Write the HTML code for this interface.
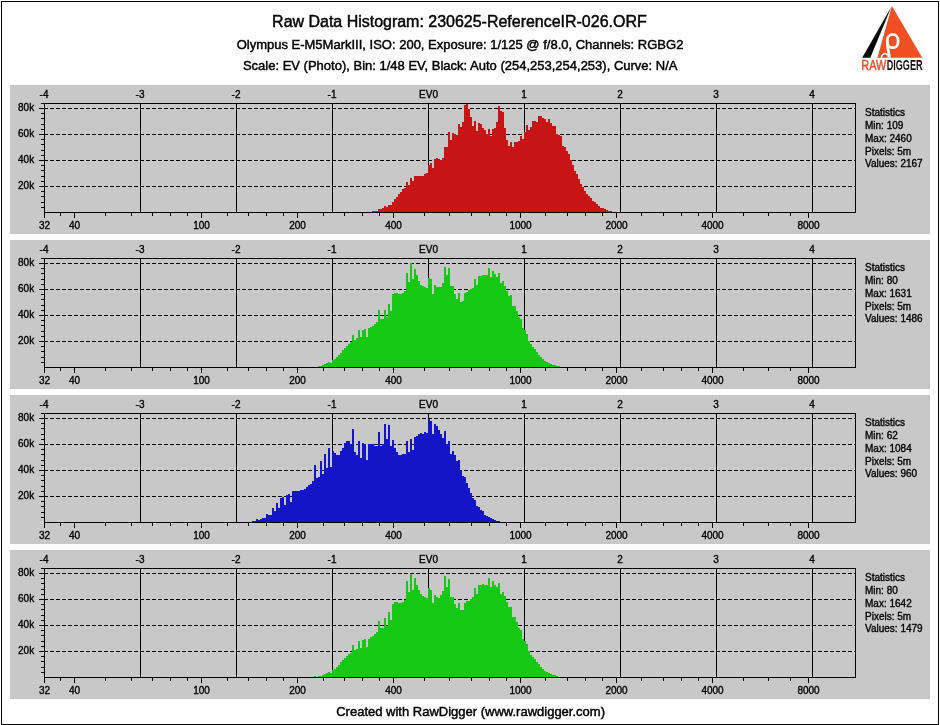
<!DOCTYPE html>
<html lang="en"><head><meta charset="utf-8"><title>Raw Data Histogram: 230625-ReferenceIR-026.ORF</title>
<style>html,body{margin:0;padding:0;background:#fff}body{width:940px;height:725px;overflow:hidden}svg{display:block}text{font-family:"Liberation Sans",sans-serif;fill:#000}.t10{font-size:10px;stroke:#000;stroke-width:.35px}.t13{font-size:13px;stroke:#000;stroke-width:.45px}.t16{font-size:16px;stroke:#000;stroke-width:.45px}.c{shape-rendering:crispEdges}</style></head><body>
<svg width="940" height="725" viewBox="0 0 940 725">
<rect width="940" height="725" fill="#fff"/>
<g class="c" fill="#000"><rect x="1" y="1" width="938" height="1"/><rect x="1" y="724" width="938" height="1"/><rect x="1" y="1" width="1" height="724"/><rect x="938" y="1" width="1" height="724"/></g>
<text class="t16" x="459.4" y="27" text-anchor="middle" textLength="374.6">Raw Data Histogram: 230625-ReferenceIR-026.ORF</text>
<text class="t13" x="460" y="48.8" text-anchor="middle">Olympus E-M5MarkIII, ISO: 200, Exposure: 1/125 @ f/8.0, Channels: RGBG2</text>
<text class="t13" x="460.2" y="69.8" text-anchor="middle">Scale: EV (Photo), Bin: 1/48 EV, Black: Auto (254,253,254,253), Curve: N/A</text>
<text class="t13" x="470.6" y="716" text-anchor="middle">Created with RawDigger (www.rawdigger.com)</text>
<g id="logo">
<polygon points="891.9,6 922.3,57.7 877.4,57.7" fill="#f04e23"/>
<polygon points="891.5,6.5 870.3,57.7 862.2,57.7" fill="#0a0a0a"/>
<rect x="887.35" y="34.7" width="10.7" height="13" rx="4.7" ry="5.6" fill="none" stroke="#fff" stroke-width="2.7"/>
<path d="M886,41 C886,46 886.8,50 887.3,53 C887.6,55 887.6,56.6 887.5,57.7 L890.9,57.7 C890.6,54 889.6,50 889,46.5 L888.7,41 Z" fill="#fff"/>
<path d="M887.6,55.4 C886.8,53.4 884,53.2 882.7,54.7 C881.7,55.8 881.4,57 881.3,57.7" fill="none" stroke="#fff" stroke-width="1.5"/>
<circle cx="884.9" cy="56" r="1" fill="#e8280f"/>
<text x="861.3" y="69.8" font-size="14.6" style="fill:#f04e23;stroke:#f04e23;stroke-width:.45px" textLength="25" lengthAdjust="spacingAndGlyphs">RAW</text>
<text x="886.7" y="69.8" font-size="14.6" font-weight="bold" style="fill:#111" textLength="35.8" lengthAdjust="spacingAndGlyphs">DIGGER</text>
</g>
<g transform="translate(0,0)">
<rect class="c" x="10" y="85" width="920" height="149" fill="#c8c8c8"/>
<g class="c" fill="#000"><path d="M44,108.5H855" stroke="#000" stroke-width="1" stroke-dasharray="4,2" stroke-dashoffset="0" fill="none"/><path d="M44,134.5H855" stroke="#000" stroke-width="1" stroke-dasharray="4,2" stroke-dashoffset="0" fill="none"/><path d="M44,160.5H855" stroke="#000" stroke-width="1" stroke-dasharray="4,2" stroke-dashoffset="0" fill="none"/><path d="M44,186.5H855" stroke="#000" stroke-width="1" stroke-dasharray="4,2" stroke-dashoffset="0" fill="none"/><rect x="140" y="103" width="1" height="110"/><rect x="236" y="103" width="1" height="110"/><rect x="332" y="103" width="1" height="110"/><rect x="428" y="103" width="1" height="110"/><rect x="524" y="103" width="1" height="110"/><rect x="620" y="103" width="1" height="110"/><rect x="716" y="103" width="1" height="110"/><rect x="812" y="103" width="1" height="110"/><rect x="41" y="103" width="815" height="1"/><rect x="44" y="212" width="812" height="1"/><rect x="44" y="103" width="1" height="115"/><rect x="855" y="103" width="1" height="110"/><rect x="41" y="207" width="3" height="1"/><rect x="41" y="202" width="3" height="1"/><rect x="41" y="196" width="3" height="1"/><rect x="41" y="191" width="3" height="1"/><rect x="39" y="186" width="5" height="1"/><rect x="41" y="181" width="3" height="1"/><rect x="41" y="176" width="3" height="1"/><rect x="41" y="170" width="3" height="1"/><rect x="41" y="165" width="3" height="1"/><rect x="39" y="160" width="5" height="1"/><rect x="41" y="155" width="3" height="1"/><rect x="41" y="150" width="3" height="1"/><rect x="41" y="144" width="3" height="1"/><rect x="41" y="139" width="3" height="1"/><rect x="39" y="134" width="5" height="1"/><rect x="41" y="129" width="3" height="1"/><rect x="41" y="124" width="3" height="1"/><rect x="41" y="118" width="3" height="1"/><rect x="41" y="113" width="3" height="1"/><rect x="39" y="108" width="5" height="1"/><rect x="60" y="213" width="1" height="3"/><rect x="74" y="213" width="1" height="5"/><rect x="105" y="213" width="1" height="3"/><rect x="131" y="213" width="1" height="3"/><rect x="152" y="213" width="1" height="3"/><rect x="170" y="213" width="1" height="3"/><rect x="187" y="213" width="1" height="3"/><rect x="201" y="213" width="1" height="5"/><rect x="227" y="213" width="1" height="3"/><rect x="248" y="213" width="1" height="3"/><rect x="266" y="213" width="1" height="3"/><rect x="283" y="213" width="1" height="3"/><rect x="297" y="213" width="1" height="5"/><rect x="323" y="213" width="1" height="3"/><rect x="344" y="213" width="1" height="3"/><rect x="362" y="213" width="1" height="3"/><rect x="379" y="213" width="1" height="3"/><rect x="393" y="213" width="1" height="5"/><rect x="424" y="213" width="1" height="3"/><rect x="449" y="213" width="1" height="3"/><rect x="471" y="213" width="1" height="3"/><rect x="489" y="213" width="1" height="3"/><rect x="506" y="213" width="1" height="3"/><rect x="520" y="213" width="1" height="5"/><rect x="545" y="213" width="1" height="3"/><rect x="567" y="213" width="1" height="3"/><rect x="585" y="213" width="1" height="3"/><rect x="602" y="213" width="1" height="3"/><rect x="616" y="213" width="1" height="5"/><rect x="641" y="213" width="1" height="3"/><rect x="663" y="213" width="1" height="3"/><rect x="681" y="213" width="1" height="3"/><rect x="698" y="213" width="1" height="3"/><rect x="712" y="213" width="1" height="5"/><rect x="743" y="213" width="1" height="3"/><rect x="768" y="213" width="1" height="3"/><rect x="790" y="213" width="1" height="3"/><rect x="808" y="213" width="1" height="5"/></g>
<path class="c" d="M372,212V211H374V211H376V211H378V209H380V209H382V208H384V206H386V207H388V205H390V205H392V202H394V199H396V197H398V194H400V192H402V189H404V188H406V182H408V185H410V178H412V181H414V176H416V176H418V176H420V176H422V176H424V174H426V173H428V165H430V163H432V168H434V159H436V158H438V159H440V160H442V158H444V147H446V147H448V132H450V140H452V133H454V134H456V135H458V124H460V127H462V122H464V105H466V104H468V109H470V117H472V126H474V121H476V131H478V123H480V124H482V128H484V130H486V134H488V129H490V136H492V129H494V128H496V122H498V106H500V111H502V112H504V128H506V140H508V146H510V142H512V147H514V142H516V142H518V141H520V136H522V139H524V132H526V125H528V130H530V127H532V121H534V121H536V122H538V116H540V116H542V118H544V119H546V122H548V119H550V123H552V126H554V126H556V134H558V135H560V136H562V146H564V147H566V151H568V154H570V160H572V165H574V171H576V174H578V179H580V184H582V187H584V191H586V194H588V196H590V198H592V201H594V202H596V204H598V206H600V208H602V208H604V209H606V210H608V211H610V211H612V212Z" fill="#c81414"/>
<g class="t10"><text x="44" y="97.8" text-anchor="middle">-4</text><text x="140" y="97.8" text-anchor="middle">-3</text><text x="236" y="97.8" text-anchor="middle">-2</text><text x="332" y="97.8" text-anchor="middle">-1</text><text x="428.5" y="97.8" text-anchor="middle">EV0</text><text x="524" y="97.8" text-anchor="middle">1</text><text x="620" y="97.8" text-anchor="middle">2</text><text x="716" y="97.8" text-anchor="middle">3</text><text x="812" y="97.8" text-anchor="middle">4</text><text x="34.2" y="111" text-anchor="end">80k</text><text x="34.2" y="137" text-anchor="end">60k</text><text x="34.2" y="163" text-anchor="end">40k</text><text x="34.2" y="189" text-anchor="end">20k</text><text x="44.5" y="228.6" text-anchor="middle">32</text><text x="74.5" y="228.6" text-anchor="middle">40</text><text x="201.5" y="228.6" text-anchor="middle">100</text><text x="297.5" y="228.6" text-anchor="middle">200</text><text x="393.5" y="228.6" text-anchor="middle">400</text><text x="520.5" y="228.6" text-anchor="middle">1000</text><text x="616.5" y="228.6" text-anchor="middle">2000</text><text x="712.5" y="228.6" text-anchor="middle">4000</text><text x="808.5" y="228.6" text-anchor="middle">8000</text><text x="865" y="115.8">Statistics</text><text x="865" y="128.7">Min: 109</text><text x="865" y="141.6">Max: 2460</text><text x="865" y="154.5">Pixels: 5m</text><text x="865" y="167.4">Values: 2167</text></g>
</g>
<g transform="translate(0,155)">
<rect class="c" x="10" y="85" width="920" height="149" fill="#c8c8c8"/>
<g class="c" fill="#000"><path d="M44,108.5H855" stroke="#000" stroke-width="1" stroke-dasharray="4,2" stroke-dashoffset="0" fill="none"/><path d="M44,134.5H855" stroke="#000" stroke-width="1" stroke-dasharray="4,2" stroke-dashoffset="0" fill="none"/><path d="M44,160.5H855" stroke="#000" stroke-width="1" stroke-dasharray="4,2" stroke-dashoffset="0" fill="none"/><path d="M44,186.5H855" stroke="#000" stroke-width="1" stroke-dasharray="4,2" stroke-dashoffset="0" fill="none"/><rect x="140" y="103" width="1" height="110"/><rect x="236" y="103" width="1" height="110"/><rect x="332" y="103" width="1" height="110"/><rect x="428" y="103" width="1" height="110"/><rect x="524" y="103" width="1" height="110"/><rect x="620" y="103" width="1" height="110"/><rect x="716" y="103" width="1" height="110"/><rect x="812" y="103" width="1" height="110"/><rect x="41" y="103" width="815" height="1"/><rect x="44" y="212" width="812" height="1"/><rect x="44" y="103" width="1" height="115"/><rect x="855" y="103" width="1" height="110"/><rect x="41" y="207" width="3" height="1"/><rect x="41" y="202" width="3" height="1"/><rect x="41" y="196" width="3" height="1"/><rect x="41" y="191" width="3" height="1"/><rect x="39" y="186" width="5" height="1"/><rect x="41" y="181" width="3" height="1"/><rect x="41" y="176" width="3" height="1"/><rect x="41" y="170" width="3" height="1"/><rect x="41" y="165" width="3" height="1"/><rect x="39" y="160" width="5" height="1"/><rect x="41" y="155" width="3" height="1"/><rect x="41" y="150" width="3" height="1"/><rect x="41" y="144" width="3" height="1"/><rect x="41" y="139" width="3" height="1"/><rect x="39" y="134" width="5" height="1"/><rect x="41" y="129" width="3" height="1"/><rect x="41" y="124" width="3" height="1"/><rect x="41" y="118" width="3" height="1"/><rect x="41" y="113" width="3" height="1"/><rect x="39" y="108" width="5" height="1"/><rect x="60" y="213" width="1" height="3"/><rect x="74" y="213" width="1" height="5"/><rect x="105" y="213" width="1" height="3"/><rect x="131" y="213" width="1" height="3"/><rect x="152" y="213" width="1" height="3"/><rect x="170" y="213" width="1" height="3"/><rect x="187" y="213" width="1" height="3"/><rect x="201" y="213" width="1" height="5"/><rect x="227" y="213" width="1" height="3"/><rect x="248" y="213" width="1" height="3"/><rect x="266" y="213" width="1" height="3"/><rect x="283" y="213" width="1" height="3"/><rect x="297" y="213" width="1" height="5"/><rect x="323" y="213" width="1" height="3"/><rect x="344" y="213" width="1" height="3"/><rect x="362" y="213" width="1" height="3"/><rect x="379" y="213" width="1" height="3"/><rect x="393" y="213" width="1" height="5"/><rect x="424" y="213" width="1" height="3"/><rect x="449" y="213" width="1" height="3"/><rect x="471" y="213" width="1" height="3"/><rect x="489" y="213" width="1" height="3"/><rect x="506" y="213" width="1" height="3"/><rect x="520" y="213" width="1" height="5"/><rect x="545" y="213" width="1" height="3"/><rect x="567" y="213" width="1" height="3"/><rect x="585" y="213" width="1" height="3"/><rect x="602" y="213" width="1" height="3"/><rect x="616" y="213" width="1" height="5"/><rect x="641" y="213" width="1" height="3"/><rect x="663" y="213" width="1" height="3"/><rect x="681" y="213" width="1" height="3"/><rect x="698" y="213" width="1" height="3"/><rect x="712" y="213" width="1" height="5"/><rect x="743" y="213" width="1" height="3"/><rect x="768" y="213" width="1" height="3"/><rect x="790" y="213" width="1" height="3"/><rect x="808" y="213" width="1" height="5"/></g>
<path class="c" d="M318,212V211H320V211H322V210H324V209H326V208H328V207H330V208H332V205H334V204H336V202H338V200H340V198H342V195H344V193H346V191H348V189H350V187H352V180H354V185H356V183H358V175H360V182H362V175H364V174H366V182H368V173H370V172H372V171H374V169H376V167H378V155H380V164H382V164H384V155H386V162H388V149H390V156H392V139H394V138H396V138H398V139H400V139H402V138H404V136H406V118H408V127H410V108H412V124H414V114H416V120H418V126H420V130H422V131H424V132H426V133H428V123H430V124H432V139H434V130H436V132H438V132H440V132H442V128H444V112H446V120H448V113H450V131H452V131H454V139H456V144H458V138H460V147H462V146H464V138H466V137H468V135H470V134H472V133H474V124H476V130H478V121H480V121H482V120H484V120H486V120H488V113H490V122H492V116H494V119H496V122H498V118H500V128H502V126H504V131H506V136H508V141H510V140H512V151H514V151H516V156H518V162H520V164H522V173H524V175H526V179H528V186H530V189H532V192H534V194H536V197H538V200H540V202H542V204H544V206H546V207H548V208H550V209H552V210H554V210H556V211H558V211H560V212Z" fill="#14c814"/>
<g class="t10"><text x="44" y="97.8" text-anchor="middle">-4</text><text x="140" y="97.8" text-anchor="middle">-3</text><text x="236" y="97.8" text-anchor="middle">-2</text><text x="332" y="97.8" text-anchor="middle">-1</text><text x="428.5" y="97.8" text-anchor="middle">EV0</text><text x="524" y="97.8" text-anchor="middle">1</text><text x="620" y="97.8" text-anchor="middle">2</text><text x="716" y="97.8" text-anchor="middle">3</text><text x="812" y="97.8" text-anchor="middle">4</text><text x="34.2" y="111" text-anchor="end">80k</text><text x="34.2" y="137" text-anchor="end">60k</text><text x="34.2" y="163" text-anchor="end">40k</text><text x="34.2" y="189" text-anchor="end">20k</text><text x="44.5" y="228.6" text-anchor="middle">32</text><text x="74.5" y="228.6" text-anchor="middle">40</text><text x="201.5" y="228.6" text-anchor="middle">100</text><text x="297.5" y="228.6" text-anchor="middle">200</text><text x="393.5" y="228.6" text-anchor="middle">400</text><text x="520.5" y="228.6" text-anchor="middle">1000</text><text x="616.5" y="228.6" text-anchor="middle">2000</text><text x="712.5" y="228.6" text-anchor="middle">4000</text><text x="808.5" y="228.6" text-anchor="middle">8000</text><text x="865" y="115.8">Statistics</text><text x="865" y="128.7">Min: 80</text><text x="865" y="141.6">Max: 1631</text><text x="865" y="154.5">Pixels: 5m</text><text x="865" y="167.4">Values: 1486</text></g>
</g>
<g transform="translate(0,310)">
<rect class="c" x="10" y="85" width="920" height="149" fill="#c8c8c8"/>
<g class="c" fill="#000"><path d="M44,108.5H855" stroke="#000" stroke-width="1" stroke-dasharray="4,2" stroke-dashoffset="0" fill="none"/><path d="M44,134.5H855" stroke="#000" stroke-width="1" stroke-dasharray="4,2" stroke-dashoffset="0" fill="none"/><path d="M44,160.5H855" stroke="#000" stroke-width="1" stroke-dasharray="4,2" stroke-dashoffset="0" fill="none"/><path d="M44,186.5H855" stroke="#000" stroke-width="1" stroke-dasharray="4,2" stroke-dashoffset="0" fill="none"/><rect x="140" y="103" width="1" height="110"/><rect x="236" y="103" width="1" height="110"/><rect x="332" y="103" width="1" height="110"/><rect x="428" y="103" width="1" height="110"/><rect x="524" y="103" width="1" height="110"/><rect x="620" y="103" width="1" height="110"/><rect x="716" y="103" width="1" height="110"/><rect x="812" y="103" width="1" height="110"/><rect x="41" y="103" width="815" height="1"/><rect x="44" y="212" width="812" height="1"/><rect x="44" y="103" width="1" height="115"/><rect x="855" y="103" width="1" height="110"/><rect x="41" y="207" width="3" height="1"/><rect x="41" y="202" width="3" height="1"/><rect x="41" y="196" width="3" height="1"/><rect x="41" y="191" width="3" height="1"/><rect x="39" y="186" width="5" height="1"/><rect x="41" y="181" width="3" height="1"/><rect x="41" y="176" width="3" height="1"/><rect x="41" y="170" width="3" height="1"/><rect x="41" y="165" width="3" height="1"/><rect x="39" y="160" width="5" height="1"/><rect x="41" y="155" width="3" height="1"/><rect x="41" y="150" width="3" height="1"/><rect x="41" y="144" width="3" height="1"/><rect x="41" y="139" width="3" height="1"/><rect x="39" y="134" width="5" height="1"/><rect x="41" y="129" width="3" height="1"/><rect x="41" y="124" width="3" height="1"/><rect x="41" y="118" width="3" height="1"/><rect x="41" y="113" width="3" height="1"/><rect x="39" y="108" width="5" height="1"/><rect x="60" y="213" width="1" height="3"/><rect x="74" y="213" width="1" height="5"/><rect x="105" y="213" width="1" height="3"/><rect x="131" y="213" width="1" height="3"/><rect x="152" y="213" width="1" height="3"/><rect x="170" y="213" width="1" height="3"/><rect x="187" y="213" width="1" height="3"/><rect x="201" y="213" width="1" height="5"/><rect x="227" y="213" width="1" height="3"/><rect x="248" y="213" width="1" height="3"/><rect x="266" y="213" width="1" height="3"/><rect x="283" y="213" width="1" height="3"/><rect x="297" y="213" width="1" height="5"/><rect x="323" y="213" width="1" height="3"/><rect x="344" y="213" width="1" height="3"/><rect x="362" y="213" width="1" height="3"/><rect x="379" y="213" width="1" height="3"/><rect x="393" y="213" width="1" height="5"/><rect x="424" y="213" width="1" height="3"/><rect x="449" y="213" width="1" height="3"/><rect x="471" y="213" width="1" height="3"/><rect x="489" y="213" width="1" height="3"/><rect x="506" y="213" width="1" height="3"/><rect x="520" y="213" width="1" height="5"/><rect x="545" y="213" width="1" height="3"/><rect x="567" y="213" width="1" height="3"/><rect x="585" y="213" width="1" height="3"/><rect x="602" y="213" width="1" height="3"/><rect x="616" y="213" width="1" height="5"/><rect x="641" y="213" width="1" height="3"/><rect x="663" y="213" width="1" height="3"/><rect x="681" y="213" width="1" height="3"/><rect x="698" y="213" width="1" height="3"/><rect x="712" y="213" width="1" height="5"/><rect x="743" y="213" width="1" height="3"/><rect x="768" y="213" width="1" height="3"/><rect x="790" y="213" width="1" height="3"/><rect x="808" y="213" width="1" height="5"/></g>
<path class="c" d="M252,212V211H254V211H256V209H258V210H260V209H262V208H264V208H266V204H268V205H270V205H272V198H274V201H276V193H278V198H280V188H282V187H284V195H286V185H288V184H290V192H292V181H294V181H296V181H298V181H300V180H302V180H304V179H306V177H308V175H310V174H312V171H314V155H316V168H318V167H320V151H322V164H324V144H326V158H328V138H330V157H332V141H334V143H336V145H338V145H340V141H342V138H344V133H346V131H348V131H350V134H352V119H354V142H356V145H358V131H360V148H362V133H364V134H366V150H368V134H370V134H372V134H374V136H376V136H378V122H380V136H382V134H384V114H386V129H388V115H390V136H392V130H394V138H396V142H398V145H400V145H402V144H404V144H406V131H408V142H410V129H412V140H414V127H416V126H418V124H420V123H422V124H424V122H426V123H428V109H430V111H432V124H434V114H436V116H438V120H440V124H442V128H444V121H446V134H448V131H450V144H452V141H454V145H456V151H458V150H460V161H462V166H464V167H466V173H468V178H470V183H472V188H474V190H476V196H478V197H480V200H482V201H484V205H486V206H488V207H490V208H492V209H494V210H496V211H498V211H500V212Z" fill="#1414c8"/>
<g class="t10"><text x="44" y="97.8" text-anchor="middle">-4</text><text x="140" y="97.8" text-anchor="middle">-3</text><text x="236" y="97.8" text-anchor="middle">-2</text><text x="332" y="97.8" text-anchor="middle">-1</text><text x="428.5" y="97.8" text-anchor="middle">EV0</text><text x="524" y="97.8" text-anchor="middle">1</text><text x="620" y="97.8" text-anchor="middle">2</text><text x="716" y="97.8" text-anchor="middle">3</text><text x="812" y="97.8" text-anchor="middle">4</text><text x="34.2" y="111" text-anchor="end">80k</text><text x="34.2" y="137" text-anchor="end">60k</text><text x="34.2" y="163" text-anchor="end">40k</text><text x="34.2" y="189" text-anchor="end">20k</text><text x="44.5" y="228.6" text-anchor="middle">32</text><text x="74.5" y="228.6" text-anchor="middle">40</text><text x="201.5" y="228.6" text-anchor="middle">100</text><text x="297.5" y="228.6" text-anchor="middle">200</text><text x="393.5" y="228.6" text-anchor="middle">400</text><text x="520.5" y="228.6" text-anchor="middle">1000</text><text x="616.5" y="228.6" text-anchor="middle">2000</text><text x="712.5" y="228.6" text-anchor="middle">4000</text><text x="808.5" y="228.6" text-anchor="middle">8000</text><text x="865" y="115.8">Statistics</text><text x="865" y="128.7">Min: 62</text><text x="865" y="141.6">Max: 1084</text><text x="865" y="154.5">Pixels: 5m</text><text x="865" y="167.4">Values: 960</text></g>
</g>
<g transform="translate(0,465)">
<rect class="c" x="10" y="85" width="920" height="149" fill="#c8c8c8"/>
<g class="c" fill="#000"><path d="M44,108.5H855" stroke="#000" stroke-width="1" stroke-dasharray="4,2" stroke-dashoffset="0" fill="none"/><path d="M44,134.5H855" stroke="#000" stroke-width="1" stroke-dasharray="4,2" stroke-dashoffset="0" fill="none"/><path d="M44,160.5H855" stroke="#000" stroke-width="1" stroke-dasharray="4,2" stroke-dashoffset="0" fill="none"/><path d="M44,186.5H855" stroke="#000" stroke-width="1" stroke-dasharray="4,2" stroke-dashoffset="0" fill="none"/><rect x="140" y="103" width="1" height="110"/><rect x="236" y="103" width="1" height="110"/><rect x="332" y="103" width="1" height="110"/><rect x="428" y="103" width="1" height="110"/><rect x="524" y="103" width="1" height="110"/><rect x="620" y="103" width="1" height="110"/><rect x="716" y="103" width="1" height="110"/><rect x="812" y="103" width="1" height="110"/><rect x="41" y="103" width="815" height="1"/><rect x="44" y="212" width="812" height="1"/><rect x="44" y="103" width="1" height="115"/><rect x="855" y="103" width="1" height="110"/><rect x="41" y="207" width="3" height="1"/><rect x="41" y="202" width="3" height="1"/><rect x="41" y="196" width="3" height="1"/><rect x="41" y="191" width="3" height="1"/><rect x="39" y="186" width="5" height="1"/><rect x="41" y="181" width="3" height="1"/><rect x="41" y="176" width="3" height="1"/><rect x="41" y="170" width="3" height="1"/><rect x="41" y="165" width="3" height="1"/><rect x="39" y="160" width="5" height="1"/><rect x="41" y="155" width="3" height="1"/><rect x="41" y="150" width="3" height="1"/><rect x="41" y="144" width="3" height="1"/><rect x="41" y="139" width="3" height="1"/><rect x="39" y="134" width="5" height="1"/><rect x="41" y="129" width="3" height="1"/><rect x="41" y="124" width="3" height="1"/><rect x="41" y="118" width="3" height="1"/><rect x="41" y="113" width="3" height="1"/><rect x="39" y="108" width="5" height="1"/><rect x="60" y="213" width="1" height="3"/><rect x="74" y="213" width="1" height="5"/><rect x="105" y="213" width="1" height="3"/><rect x="131" y="213" width="1" height="3"/><rect x="152" y="213" width="1" height="3"/><rect x="170" y="213" width="1" height="3"/><rect x="187" y="213" width="1" height="3"/><rect x="201" y="213" width="1" height="5"/><rect x="227" y="213" width="1" height="3"/><rect x="248" y="213" width="1" height="3"/><rect x="266" y="213" width="1" height="3"/><rect x="283" y="213" width="1" height="3"/><rect x="297" y="213" width="1" height="5"/><rect x="323" y="213" width="1" height="3"/><rect x="344" y="213" width="1" height="3"/><rect x="362" y="213" width="1" height="3"/><rect x="379" y="213" width="1" height="3"/><rect x="393" y="213" width="1" height="5"/><rect x="424" y="213" width="1" height="3"/><rect x="449" y="213" width="1" height="3"/><rect x="471" y="213" width="1" height="3"/><rect x="489" y="213" width="1" height="3"/><rect x="506" y="213" width="1" height="3"/><rect x="520" y="213" width="1" height="5"/><rect x="545" y="213" width="1" height="3"/><rect x="567" y="213" width="1" height="3"/><rect x="585" y="213" width="1" height="3"/><rect x="602" y="213" width="1" height="3"/><rect x="616" y="213" width="1" height="5"/><rect x="641" y="213" width="1" height="3"/><rect x="663" y="213" width="1" height="3"/><rect x="681" y="213" width="1" height="3"/><rect x="698" y="213" width="1" height="3"/><rect x="712" y="213" width="1" height="5"/><rect x="743" y="213" width="1" height="3"/><rect x="768" y="213" width="1" height="3"/><rect x="790" y="213" width="1" height="3"/><rect x="808" y="213" width="1" height="5"/></g>
<path class="c" d="M314,212V211H316V212ZM318,212V211H320V211H322V210H324V209H326V208H328V207H330V208H332V205H334V204H336V202H338V200H340V197H342V195H344V193H346V191H348V189H350V188H352V180H354V185H356V184H358V176H360V183H362V175H364V174H366V182H368V174H370V172H372V171H374V169H376V167H378V156H380V163H382V163H384V153H386V161H388V147H390V155H392V139H394V137H396V137H398V138H400V138H402V137H404V135H406V116H408V127H410V109H412V125H414V113H416V120H418V125H420V129H422V131H424V132H426V133H428V123H430V125H432V138H434V130H436V132H438V133H440V130H442V126H444V111H446V122H448V114H450V132H452V132H454V139H456V143H458V138H460V145H462V145H464V138H466V136H468V136H470V134H472V132H474V123H476V129H478V120H480V120H482V119H484V120H486V120H488V113H490V122H492V116H494V120H496V122H498V118H500V129H502V127H504V131H506V137H508V142H510V142H512V152H514V152H516V157H518V163H520V165H522V174H524V176H526V179H528V186H530V190H532V192H534V194H536V197H538V199H540V202H542V204H544V206H546V207H548V208H550V209H552V210H554V210H556V211H558V212Z" fill="#14c814"/>
<g class="t10"><text x="44" y="97.8" text-anchor="middle">-4</text><text x="140" y="97.8" text-anchor="middle">-3</text><text x="236" y="97.8" text-anchor="middle">-2</text><text x="332" y="97.8" text-anchor="middle">-1</text><text x="428.5" y="97.8" text-anchor="middle">EV0</text><text x="524" y="97.8" text-anchor="middle">1</text><text x="620" y="97.8" text-anchor="middle">2</text><text x="716" y="97.8" text-anchor="middle">3</text><text x="812" y="97.8" text-anchor="middle">4</text><text x="34.2" y="111" text-anchor="end">80k</text><text x="34.2" y="137" text-anchor="end">60k</text><text x="34.2" y="163" text-anchor="end">40k</text><text x="34.2" y="189" text-anchor="end">20k</text><text x="44.5" y="228.6" text-anchor="middle">32</text><text x="74.5" y="228.6" text-anchor="middle">40</text><text x="201.5" y="228.6" text-anchor="middle">100</text><text x="297.5" y="228.6" text-anchor="middle">200</text><text x="393.5" y="228.6" text-anchor="middle">400</text><text x="520.5" y="228.6" text-anchor="middle">1000</text><text x="616.5" y="228.6" text-anchor="middle">2000</text><text x="712.5" y="228.6" text-anchor="middle">4000</text><text x="808.5" y="228.6" text-anchor="middle">8000</text><text x="865" y="115.8">Statistics</text><text x="865" y="128.7">Min: 80</text><text x="865" y="141.6">Max: 1642</text><text x="865" y="154.5">Pixels: 5m</text><text x="865" y="167.4">Values: 1479</text></g>
</g>
</svg></body></html>
